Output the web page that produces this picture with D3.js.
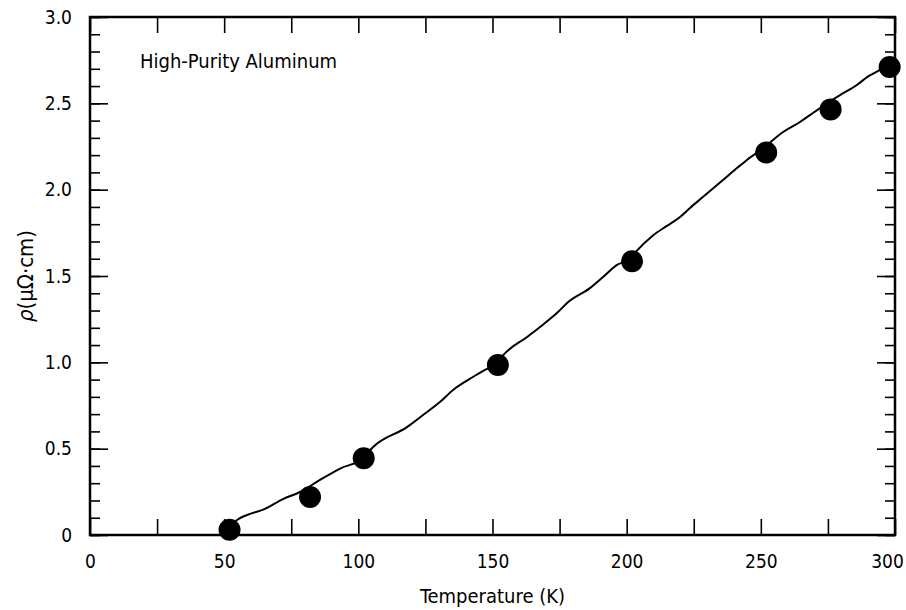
<!DOCTYPE html>
<html>
<head>
<meta charset="utf-8">
<script src="https://cdn.jsdelivr.net/npm/d3@7"></script>
<style>
  body { margin: 0; background: #fff; }
  svg text { font-family: "DejaVu Sans Condensed", "Liberation Sans", sans-serif; fill: #000; }
</style>
</head>
<body>
<svg id="chart"></svg>
<script>
// measured points
const temps = [52, 82, 102, 152, 202, 252, 276, 298];
const rho = [0.03, 0.22, 0.445, 0.985, 1.585, 2.215, 2.465, 2.71];

// traced curve through the data
const curveT = [52, 54.8, 58.5, 65.2, 71.9, 78.3, 85.7, 93.2, 101.7, 105.5, 118.1, 124.1, 130.4, 135.3,
  142.7, 147.2, 151.7, 153.9, 162.9, 167.7, 174.4, 177.8, 186.3, 191.2, 196.4, 201.2, 203.1, 209.8,
  215.0, 219.9, 223.6, 228.4, 235.9, 241.1, 244.8, 250.8, 258.3, 264.6, 268.3, 274.7, 279.5, 285.8,
  289.6, 296.3, 299.3];
const curveRho = [0.04, 0.087, 0.116, 0.151, 0.208, 0.249, 0.319, 0.385, 0.445, 0.51, 0.625, 0.695, 0.77, 0.84,
  0.915, 0.956, 0.995, 1.04, 1.147, 1.205, 1.291, 1.344, 1.43, 1.494, 1.564, 1.60, 1.635, 1.735,
  1.79, 1.842, 1.894, 1.957, 2.056, 2.125, 2.172, 2.24, 2.334, 2.392, 2.432, 2.50, 2.548, 2.606,
  2.652, 2.71, 2.74];

const xTicks = d3.range(0, 301, 25);
const xLabels = [0, 50, 100, 150, 200, 250, 300];
const yMinor = d3.range(0, 31, 1).map(d => d / 10);
const yMajor = [0, 0.5, 1.0, 1.5, 2.0, 2.5, 3.0];

const title = "High-Purity Aluminum";
const xTitle = "Temperature (K)";

const margin = { top: 17, right: 11, bottom: 75, left: 90 };
const width = 906 - margin.left - margin.right;
const height = 610 - margin.top - margin.bottom;

const svg = d3.select("#chart")
    .attr("width", 906)
    .attr("height", 610);

const chart = svg.append("g")
    .attr("transform", `translate(${margin.left},${margin.top})`);

const x = d3.scaleLinear().domain([0, 300]).range([0, width]);
const y = d3.scaleLinear().domain([0, 3]).range([height, 0]);

// bottom axis, inward ticks
const bottom = chart.append("g")
    .attr("transform", `translate(0,${height})`)
    .call(d3.axisBottom(x).tickValues(xTicks).tickSize(-16).tickPadding(20)
        .tickFormat(d => xLabels.includes(d) ? d : ""));
bottom.selectAll("text").filter(d => d === 300).attr("dx", -8);

chart.append("g")
    .call(d3.axisTop(x).tickValues(xTicks).tickSize(-16).tickFormat(""));

// left axis: minor then major
chart.append("g")
    .call(d3.axisLeft(y).tickValues(yMinor).tickSize(-10).tickFormat(""));
chart.append("g")
    .call(d3.axisLeft(y).tickValues(yMajor).tickSize(-18).tickPadding(18)
        .tickFormat(d => d === 0 ? "0" : d3.format(".1f")(d)));

chart.append("g")
    .attr("transform", `translate(${width},0)`)
    .call(d3.axisRight(y).tickValues(yMinor).tickSize(-10).tickFormat(""));
chart.append("g")
    .attr("transform", `translate(${width},0)`)
    .call(d3.axisRight(y).tickValues(yMajor).tickSize(-18).tickFormat(""));

chart.selectAll(".domain").remove();
chart.selectAll(".tick line").attr("stroke", "#000").attr("stroke-width", 1.6);
chart.selectAll(".tick text").style("font-size", "19px");

// frame
chart.append("rect")
    .attr("width", width)
    .attr("height", height)
    .attr("fill", "none")
    .attr("stroke", "#000")
    .attr("stroke-width", 2.5);

// curve
const curveData = curveT.map((t, i) => ({ t: t, r: curveRho[i] }));
chart.append("path")
    .datum(curveData)
    .attr("fill", "none")
    .attr("stroke", "#000")
    .attr("stroke-width", 2)
    .attr("stroke-linejoin", "round")
    .attr("d", d3.line().x(d => x(d.t)).y(d => y(d.r)).curve(d3.curveMonotoneX));

// points
chart.selectAll(".dot")
    .data(temps.map((t, i) => ({ t: t, r: rho[i] })))
    .enter()
    .append("circle")
    .attr("class", "dot")
    .attr("cx", d => x(d.t))
    .attr("cy", d => y(d.r))
    .attr("r", 11)
    .attr("fill", "#000");

// annotation
chart.append("text")
    .attr("x", 50)
    .attr("y", 51)
    .style("font-size", "20px")
    .text(title);

// axis titles
svg.append("text")
    .attr("x", margin.left + width / 2)
    .attr("y", 603)
    .attr("text-anchor", "middle")
    .style("font-size", "20px")
    .text(xTitle);

const yTitle = svg.append("text")
    .attr("transform", `translate(33,${margin.top + height / 2}) rotate(-90)`)
    .attr("text-anchor", "middle")
    .style("font-size", "22px");
yTitle.append("tspan").style("font-style", "italic").text("ρ");
yTitle.append("tspan").text("(μΩ·cm)");
</script>
</body>
</html>
